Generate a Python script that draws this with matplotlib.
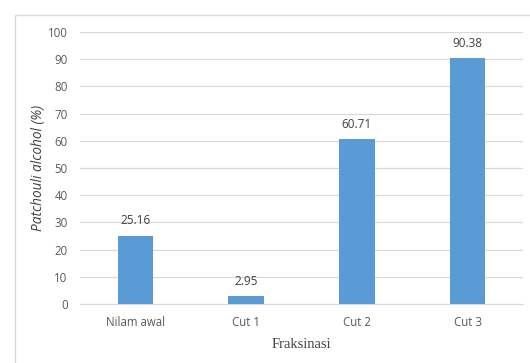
import matplotlib.pyplot as plt
from matplotlib.patches import Rectangle

categories = ['Nilam awal', 'Cut 1', 'Cut 2', 'Cut 3']
values = [25.16, 2.95, 60.71, 90.38]
value_labels = ['25.16', '2.95', '60.71', '90.38']
yticks = list(range(0, 101, 10))

fig = plt.figure(figsize=(5.30, 3.63), dpi=100)
W, H = 530, 363

# outer chart border (light grey, cut off at right/bottom)
fig.patches.append(Rectangle((15 / W, -0.1), 1.1, 1 - 15 / H + 0.1, transform=fig.transFigure,
                             fill=False, edgecolor='#d9d9d9', linewidth=1.0))

ax = fig.add_axes([80 / W, 1 - 304 / H, (523 - 80) / W, (304 - 32) / H])

x = list(range(len(categories)))
ax.bar(x, values, width=0.32, color='#5b9bd5', zorder=3)
for xi, v, lab in zip(x, values, value_labels):
    ax.annotate(lab, (xi, v), xytext=(0, 6), textcoords='offset points', ha='center', va='bottom',
                fontsize=8.5, color='#404040', family='Open Sans')

ax.set_xlim(-0.5, 3.5)
ax.set_ylim(0, 100)
ax.set_yticks(yticks)
ax.set_xticks(x)
ax.set_xticklabels(categories)
ax.grid(axis='y', color='#d9d9d9', linewidth=0.9, zorder=0)
for s in ['top', 'right', 'left']:
    ax.spines[s].set_visible(False)
ax.spines['bottom'].set_color('#d9d9d9')
ax.tick_params(axis='both', length=0, labelsize=8.3, colors='#595959')
ax.tick_params(axis='y', pad=9)
ax.tick_params(axis='x', pad=9)
for t in ax.get_xticklabels() + ax.get_yticklabels():
    t.set_family('Open Sans')

ax.set_ylabel('Patchouli alcohol (%)', fontsize=9.8, style='italic', color='#404040', family='Open Sans')
ax.yaxis.set_label_coords(-0.077, 0.5)
ax.set_xlabel('Fraksinasi', fontsize=10.5, color='#404040', family='Liberation Serif')
ax.xaxis.set_label_coords(0.5, -0.125)

fig.savefig('out.png', dpi=100)
